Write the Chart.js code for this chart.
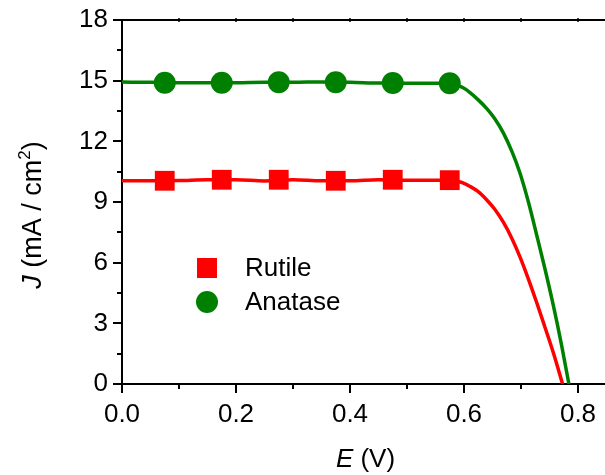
<!DOCTYPE html>
<html>
<head>
<meta charset="utf-8">
<script src="https://cdn.jsdelivr.net/npm/chart.js@4"></script>
<style>
  html, body { margin: 0; padding: 0; background: #fff; }
  #wrap { width: 605px; height: 475px; }
</style>
</head>
<body>
<div id="wrap"><canvas id="jvCanvas" width="605" height="475"></canvas></div>
<script>
// symbols measured at these potentials
const markerE = [0.075, 0.175, 0.275, 0.375, 0.475, 0.575];
const rutileMarkerJ = [10.05, 10.1, 10.1, 10.05, 10.1, 10.08];
const anataseMarkerJ = [14.9, 14.9, 14.92, 14.92, 14.88, 14.87];

// full J-V curves
const rutileCurveE = [0, 0.05, 0.1, 0.15, 0.2, 0.25, 0.3, 0.35, 0.4, 0.45, 0.5, 0.55, 0.575, 0.59, 0.6, 0.61, 0.625, 0.64, 0.654, 0.669, 0.684, 0.698, 0.713, 0.7275, 0.742, 0.757, 0.773];
const rutileCurveJ = [10.05, 10.05, 10.06, 10.1, 10.1, 10.04, 10.1, 10.05, 10.05, 10.1, 10.08, 10.08, 10.08, 10.01, 9.92, 9.78, 9.51, 9.1, 8.64, 8.0, 7.2, 6.3, 5.19, 4.03, 2.81, 1.52, 0];
const anataseCurveE = [0, 0.05, 0.1, 0.15, 0.2, 0.25, 0.3, 0.35, 0.4, 0.45, 0.5, 0.55, 0.575, 0.59, 0.6, 0.61, 0.625, 0.64, 0.654, 0.669, 0.684, 0.698, 0.713, 0.7275, 0.742, 0.757, 0.771, 0.784];
const anataseCurveJ = [14.93, 14.92, 14.9, 14.9, 14.9, 14.92, 14.92, 14.94, 14.92, 14.88, 14.87, 14.87, 14.87, 14.75, 14.62, 14.42, 14.05, 13.62, 13.12, 12.42, 11.5, 10.45, 9.0, 7.37, 5.7, 3.85, 1.95, 0];

const seriesNames = ['Rutile', 'Anatase'];
const seriesColors = ['#ff0000', '#008000'];

const xTicks = [0, 0.2, 0.4, 0.6, 0.8];
const yTicks = [0, 3, 6, 9, 12, 15, 18];

const FONT = '"Liberation Sans", Arial, sans-serif';

function pts(xs, ys) {
    return xs.map((x, i) => ({ x: x, y: ys[i] }));
}

// minor ticks, top frame, axis titles and the inset legend
const decorPlugin = {
    id: 'decor',
    afterDraw(chart) {
        const ctx = chart.ctx;
        const area = chart.chartArea;
        const xs = chart.scales.x;
        const ys = chart.scales.y;
        ctx.save();
        ctx.strokeStyle = '#000';
        ctx.lineWidth = 2;

        // minor ticks
        for (let v = 0.1; v < xs.max; v += 0.2) {
            const px = Math.round(xs.getPixelForValue(v));
            ctx.beginPath();
            ctx.moveTo(px, area.bottom);
            ctx.lineTo(px, area.bottom + 5);
            ctx.stroke();
        }
        for (let v = 1.5; v < 18; v += 3) {
            const py = Math.round(ys.getPixelForValue(v));
            ctx.beginPath();
            ctx.moveTo(area.left, py);
            ctx.lineTo(area.left - 5, py);
            ctx.stroke();
        }

        // top frame with tiny ticks
        ctx.beginPath();
        ctx.moveTo(area.left, area.top);
        ctx.lineTo(chart.width, area.top);
        ctx.stroke();
        ctx.lineWidth = 1.5;
        for (let v = 0.1; v < xs.max; v += 0.1) {
            const px = Math.round(xs.getPixelForValue(v));
            ctx.beginPath();
            ctx.moveTo(px, area.top - 2);
            ctx.lineTo(px, area.top + 2);
            ctx.stroke();
        }

        ctx.fillStyle = '#000';
        ctx.textBaseline = 'alphabetic';

        // x title: E (V)
        drawParts(ctx, [['italic', 'E'], ['normal', ' (V)']], (area.left + chart.width) / 2 + 2, 467, 26);

        // y title: J (mA / cm²)
        ctx.save();
        ctx.translate(41, 215);
        ctx.rotate(-Math.PI / 2);
        drawParts(ctx, [['italic', 'J'], ['normal', ' (mA / cm'], ['sup', '2'], ['normal', ')']], 0, 0, 27);
        ctx.restore();

        // legend
        const lx = 207;
        const rows = [268, 302];
        ctx.font = '26px ' + FONT;
        ctx.textAlign = 'left';
        ctx.textBaseline = 'middle';
        seriesNames.forEach((name, i) => {
            ctx.fillStyle = seriesColors[i];
            if (i === 0) {
                ctx.fillRect(lx - 10, rows[i] - 10, 20, 20);
            } else {
                ctx.beginPath();
                ctx.arc(lx, rows[i], 11, 0, Math.PI * 2);
                ctx.fill();
            }
            ctx.fillStyle = '#000';
            ctx.fillText(name, 245, rows[i] + 1);
        });
        ctx.restore();
    }
};

function drawParts(ctx, parts, cx, baseline, size) {
    const fonts = parts.map(p => {
        if (p[0] === 'italic') return 'italic ' + size + 'px ' + FONT;
        if (p[0] === 'sup') return Math.round(size * 0.62) + 'px ' + FONT;
        return size + 'px ' + FONT;
    });
    let total = 0;
    const widths = parts.map((p, i) => {
        ctx.font = fonts[i];
        const w = ctx.measureText(p[1]).width;
        total += w;
        return w;
    });
    let x = cx - total / 2;
    ctx.textAlign = 'left';
    parts.forEach((p, i) => {
        ctx.font = fonts[i];
        const y = p[0] === 'sup' ? baseline - size * 0.42 : baseline;
        ctx.fillText(p[1], x, y);
        x += widths[i];
    });
}

const ctx = document.getElementById('jvCanvas').getContext('2d');
const chart = new Chart(ctx, {
    type: 'scatter',
    data: {
        datasets: [
            {
                label: 'Rutile curve',
                data: pts(rutileCurveE, rutileCurveJ),
                showLine: true,
                borderColor: seriesColors[0],
                borderWidth: 3.5,
                pointRadius: 0,
                cubicInterpolationMode: 'monotone',
                order: 2
            },
            {
                label: 'Anatase curve',
                data: pts(anataseCurveE, anataseCurveJ),
                showLine: true,
                borderColor: seriesColors[1],
                borderWidth: 3.5,
                pointRadius: 0,
                cubicInterpolationMode: 'monotone',
                order: 2
            },
            {
                label: seriesNames[0],
                data: pts(markerE, rutileMarkerJ),
                pointStyle: 'rect',
                pointRadius: 14,
                backgroundColor: seriesColors[0],
                borderWidth: 0,
                order: 1
            },
            {
                label: seriesNames[1],
                data: pts(markerE, anataseMarkerJ),
                pointStyle: 'circle',
                pointRadius: 11,
                backgroundColor: seriesColors[1],
                borderWidth: 0,
                order: 1
            }
        ]
    },
    options: {
        responsive: false,
        animation: false,
        events: [],
        layout: { autoPadding: false, padding: { top: 20, right: 0, left: 0, bottom: 0 } },
        plugins: {
            legend: { display: false },
            tooltip: { enabled: false }
        },
        scales: {
            x: {
                type: 'linear',
                min: 0,
                max: (605 - 122) / 570,
                afterBuildTicks: s => { s.ticks = xTicks.map(v => ({ value: v })); },
                afterFit: s => { s.height = 91; s.paddingLeft = 0; s.paddingRight = 0; },
                border: { display: true, color: '#000', width: 2 },
                grid: { display: true, drawOnChartArea: false, drawTicks: true, tickLength: 9, color: '#000', lineWidth: 2 },
                ticks: {
                    color: '#000',
                    padding: 6,
                    maxRotation: 0,
                    font: { family: FONT, size: 26 },
                    callback: v => v.toFixed(1)
                }
            },
            y: {
                type: 'linear',
                min: 0,
                max: 18,
                afterBuildTicks: s => { s.ticks = yTicks.map(v => ({ value: v })); },
                afterFit: s => { s.width = 122; s.paddingTop = 0; s.paddingBottom = 0; },
                border: { display: true, color: '#000', width: 2 },
                grid: { display: true, drawOnChartArea: false, drawTicks: true, tickLength: 9, color: '#000', lineWidth: 2 },
                ticks: {
                    color: '#000',
                    padding: 5,
                    font: { family: FONT, size: 26 },
                    callback: v => String(v)
                }
            }
        }
    },
    plugins: [decorPlugin]
});
</script>
</body>
</html>
